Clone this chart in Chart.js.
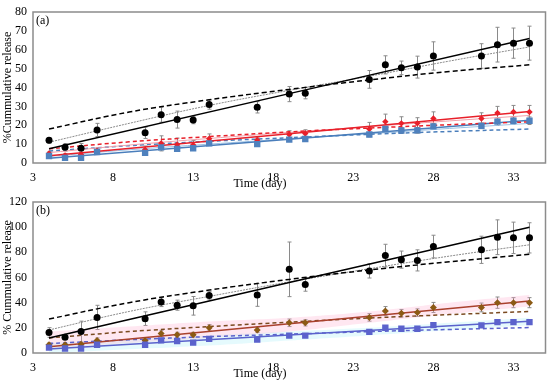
<!DOCTYPE html>
<html><head><meta charset="utf-8">
<script src="https://cdn.jsdelivr.net/npm/chart.js@4.4.1/dist/chart.umd.min.js"></script>
<style>
html,body{margin:0;padding:0;background:#fff;}
#wrap{position:relative;width:550px;height:381px;}
.box{position:absolute;left:0;width:550px;}
canvas{display:block;}
</style></head><body>
<div id="wrap">
<div class="box" style="top:0;height:190px"><canvas id="ca" width="550" height="190"></canvas></div>
<div class="box" style="top:190px;height:191px"><canvas id="cb" width="550" height="191"></canvas></div>
</div>
<script>
// ---- shared categories / ticks ----
const days = [4,5,6,7,10,11,12,13,14,17,19,20,24,25,26,27,28,31,32,33,34];
const xTicks = [3,8,13,18,23,28,33];
const fitDays = [4,9,14,19,24,29,34];
const lineEnds = [4,34];

// ---- panel (a) measured values ----
const aBlack    = [12,8.3,7.8,17.5,16,25.6,23,22.8,31,29.5,36.5,37,44.3,52,50.4,50.8,56.7,56.7,62.7,63.5,63.5];
const aBlackErr = [1.5,2,2.5,3.5,3,4,4.5,2,2.5,3,4,3,4.7,4.8,3.6,5.8,7.5,6.5,9.2,8,9];
const aRed      = [5,4,4.5,6.5,7,10.4,9.7,9.5,12.9,12.2,15.1,15.6,18,21.9,21,21,23.6,23.6,26.5,27,27];
const aRedErr   = [1,1,1,1.5,2,4,3.5,2.5,2.5,1.5,2,2,3.5,4,3.5,3,3.5,3,3.5,3.5,3.5];
const aBlue     = [3.7,2.7,2.7,5.8,5.4,8.3,7.5,7.8,10.4,10,12.4,12.7,15.1,18,17.2,17.3,19.4,19.7,21.9,22.4,22.4];
const aBlueErr  = [0.8,0.8,0.8,1,1,1.2,1.2,1,1,1,1,1,1.2,1.5,1.5,1.5,1.5,1.5,2,2,2];
// panel (a) model curves
const aBlackLin  = [7.5,66];
const aBlackSqrt = [18,27,33.5,39,44,48.5,52];
const aBlackPow  = [11,21,30.5,38.5,46,54,61.5];
const aRedLin    = [3.8,27.3];
const aRedSqrt   = [7.5,11.2,14,16.5,18.5,20.3,21.8];
const aRedPow    = [5.5,9.5,13,16.2,19.3,22.3,25.2];
const aBlueLin   = [2.5,22.6];
const aBlueSqrt  = [6.3,9.2,11.5,13.4,15.2,16.7,18];
const aBluePow   = [3.5,7,10,12.8,15.5,18.3,21];

// ---- panel (b) measured values ----
const bBlack    = [16.3,12.5,17,28.3,27.3,40.5,38,37.5,45.6,46.1,66.5,54.5,65.2,77.4,74.2,73.6,84.6,82,92,91.5,91.5];
const bBlackErr = [3.8,1.5,8.3,9.6,5.4,3.6,4,7.4,3.4,9,21.7,5.4,5.6,9,6.8,8.4,9,10.8,13.8,12.5,12];
const bBrown    = [6.6,6.5,7,10,10,15.5,14.5,14.5,20.1,18.3,24,24,28.3,33.4,31.6,32.1,36.2,36.2,40,40,40];
const bBrownErr = [1.5,1,1.5,2,2,2.5,2,2,2.5,2,3,2.5,3,3.5,3,3,4,3.5,4.5,4,4];
const bBlue     = [4.3,3.6,3.6,6.6,6.6,10,9.4,8.2,11.2,10.7,13.8,13.8,16.8,20.1,19.3,19.3,22.2,22,24.5,24.5,24.5];
const bBlueErr  = [0.5,0.5,0.5,0.6,0.6,0.7,0.7,0.7,0.8,0.8,0.8,0.8,0.9,0.9,0.9,0.9,1,1,1,1,1];
// panel (b) model curves
const bBlackLin  = [12,100];
const bBlackSqrt = [27,40,50,58.5,66,72.5,78.5];
const bBlackPow  = [18.3,33,45,56.5,67,77,86];
const bBrownLin  = [5,41.3];
const bBrownSqrt = [12,17,21,24.5,27.8,30.5,33];
const bBlueLin   = [3.2,25.3];
const bBlueSqrt  = [7.5,10.5,13,15,17,18.7,20.2];
const bPinkLow   = [4,8,12,17,24,31,37];
const bPinkHigh  = [17,21,25,28,33,40,46];
const bCyanLow   = [0,3,6,10,14,18,22];
const bCyanHigh  = [8,11,14,17,20,24,28];

const FONT = '"Liberation Serif", "Times New Roman", serif';
const pts = (xs, ys) => xs.map((x,i)=>({x:x, y:ys[i]}));

function lineDS(xs, ys, color, width, dash){
  return {type:'line', data:pts(xs,ys), borderColor:color, borderWidth:width, borderDash:dash||[],
          pointRadius:0, showLine:true, fill:false, tension:0.4, order:1};
}
function pointDS(ys, errs, color, style, r){
  return {type:'scatter', data:pts(days,ys), errs:errs, backgroundColor:color, borderColor:color,
          borderWidth:0, pointStyle:style, pointRadius:r, pointHoverRadius:r, showLine:false, order:0};
}
function bandDS(ys, fill, color){
  return {type:'line', data:pts(fitDays,ys), borderWidth:0, borderColor:'rgba(0,0,0,0)', pointRadius:0,
          showLine:true, tension:0.4, fill:fill, backgroundColor:color, order:2};
}

const errBars = {
  id:'errBars',
  beforeDatasetsDraw(chart){
    const {ctx, scales:{x,y}} = chart;
    ctx.save(); ctx.strokeStyle='#8a8a8a'; ctx.lineWidth=1;
    chart.data.datasets.forEach(ds=>{
      if(!ds.errs) return;
      ds.data.forEach((p,i)=>{
        const e = ds.errs[i];
        const px = Math.round(x.getPixelForValue(p.x))+0.5;
        const y1 = y.getPixelForValue(p.y+e), y2 = y.getPixelForValue(p.y-e);
        ctx.beginPath();
        ctx.moveTo(px,y1); ctx.lineTo(px,y2);
        ctx.moveTo(px-2,y1); ctx.lineTo(px+2,y1);
        ctx.moveTo(px-2,y2); ctx.lineTo(px+2,y2);
        ctx.stroke();
      });
    });
    ctx.restore();
  }
};
const deco = {
  id:'deco',
  afterDraw(chart, args, opts){
    const {ctx, chartArea:a} = chart;
    ctx.save();
    ctx.strokeStyle='#8c8c8c'; ctx.lineWidth=1.5;
    ctx.strokeRect(a.left, a.top, a.right-a.left, a.bottom-a.top);
    ctx.fillStyle='#000'; ctx.font='12px '+FONT;
    ctx.textBaseline='middle'; ctx.textAlign='left';
    ctx.fillText(opts.panel, a.left+3, a.top+9);
    ctx.textAlign='center';
    ctx.fillText(opts.xtitle, opts.tx, opts.ty);
    ctx.restore();
  }
};

function makeChart(id, canvasH, datasets, ymax, ystep, ytitle, panel){
  return new Chart(document.getElementById(id), {
    type:'scatter',
    data:{datasets:datasets},
    options:{
      responsive:false, animation:false, devicePixelRatio:1,
      layout:{padding:{top:0,right:1,left:0,bottom:0}},
      plugins:{legend:{display:false}, tooltip:{enabled:false},
               deco:{panel:panel, xtitle:'Time (day)', tx:260, ty:184}},
      scales:{
        x:{type:'linear', min:3, max:35,
           afterBuildTicks:s=>{ s.ticks = xTicks.map(v=>({value:v})); },
           grid:{display:false, drawTicks:false}, border:{display:false},
           ticks:{padding:8, color:'#000', font:{family:FONT, size:12}, maxRotation:0, autoSkip:false},
           afterFit:s=>{ s.height = canvasH-163; }},
        y:{type:'linear', min:0, max:ymax,
           grid:{display:false, drawTicks:false}, border:{display:false},
           ticks:{stepSize:ystep, padding:6, color:'#000', font:{family:FONT, size:12, lineHeight:1}},
           title:{display:true, text:ytitle, color:'#000', font:{family:FONT, size:12}, padding:{top:1,bottom:0}},
           afterFit:s=>{ s.width = 33; }}
      }
    },
    plugins:[errBars, deco]
  });
}

makeChart('ca', 190, [
  pointDS(aBlue, aBlueErr, '#4F81BD', 'rect', 4.5),
  pointDS(aRed, aRedErr, '#E8202A', 'rectRot', 3.2),
  pointDS(aBlack, aBlackErr, '#000000', 'circle', 3.5),
  lineDS(lineEnds, aBlackLin, '#000000', 1.5),
  lineDS(fitDays, aBlackSqrt, '#000000', 1.5, [5,3]),
  lineDS(fitDays, aBlackPow, '#8a8a8a', 1, [2,1]),
  lineDS(lineEnds, aRedLin, '#E8202A', 1.5),
  lineDS(fitDays, aRedSqrt, '#E8202A', 1.5, [4,3]),
  lineDS(fitDays, aRedPow, '#F3A0AA', 1),
  lineDS(lineEnds, aBlueLin, '#4A7EBB', 1.5),
  lineDS(fitDays, aBlueSqrt, '#4A7EBB', 1.5, [4,3]),
  lineDS(fitDays, aBluePow, '#9CC2E5', 1)
], 80, 10, '%Cummulative release', '(a)');

makeChart('cb', 191, [
  bandDS(bPinkLow, false, 'rgba(0,0,0,0)'),
  bandDS(bPinkHigh, '-1', 'rgba(255,170,205,0.28)'),
  bandDS(bCyanLow, false, 'rgba(0,0,0,0)'),
  bandDS(bCyanHigh, '-1', 'rgba(170,238,248,0.30)'),
  pointDS(bBlue, bBlueErr, '#5B62CC', 'rect', 4.5),
  pointDS(bBrown, bBrownErr, '#8B5A14', 'rectRot', 3.5),
  pointDS(bBlack, bBlackErr, '#000000', 'circle', 3.5),
  lineDS(lineEnds, bBlackLin, '#000000', 1.5),
  lineDS(fitDays, bBlackSqrt, '#000000', 1.5, [5,3]),
  lineDS(fitDays, bBlackPow, '#8a8a8a', 1, [2,1]),
  lineDS(lineEnds, bBrownLin, '#A9412D', 1.5),
  lineDS(fitDays, bBrownSqrt, '#7A4A20', 1.5, [4,3]),
  lineDS(lineEnds, bBlueLin, '#5B62CC', 1.5),
  lineDS(fitDays, bBlueSqrt, '#5B62CC', 1.5, [4,3])
], 120, 20, '% Cummulative release', '(b)');
</script>
</body></html>
